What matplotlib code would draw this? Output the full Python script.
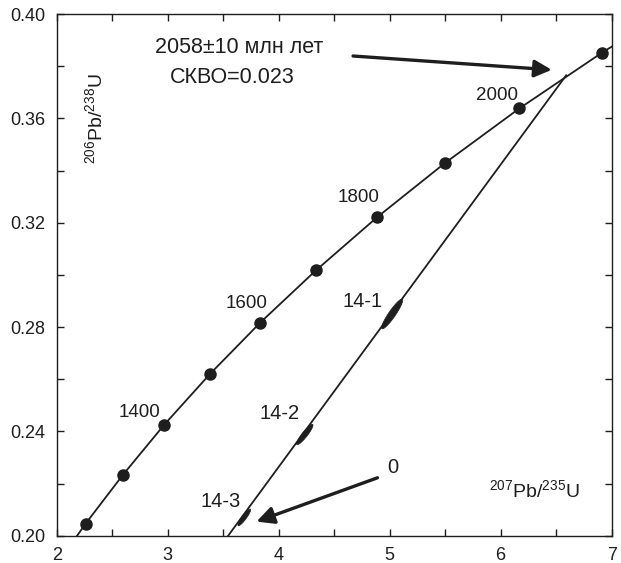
import numpy as np
import matplotlib
matplotlib.use("Agg")
import matplotlib.pyplot as plt

plt.rcParams['font.family'] = ['Liberation Sans', 'DejaVu Sans']
plt.rcParams['mathtext.fontset'] = 'custom'
plt.rcParams['mathtext.rm'] = 'Liberation Sans'
plt.rcParams['mathtext.default'] = 'regular'

INK = '#1e1e1e'

# concordia nodes, Ma (1100 and 2200 only to run the curve off the frame)
ages = [1100, 1200, 1300, 1400, 1500, 1600, 1700, 1800, 1900, 2000, 2100, 2200]
pb207_u235 = [1.955, 2.260, 2.598, 2.970, 3.381, 3.834, 4.335, 4.887, 5.496, 6.168, 6.910, 7.730]
pb206_u238 = [0.1861, 0.2046, 0.2234, 0.2426, 0.2620, 0.2817, 0.3017, 0.3221, 0.3428, 0.3638, 0.3851, 0.4068]
dot_ages = [1200, 1300, 1400, 1500, 1600, 1700, 1800, 1900, 2000, 2100]

age_labels = ['1400', '1600', '1800', '2000']
age_label_x = [2.75, 3.71, 4.72, 5.97]
age_label_y = [0.2472, 0.2890, 0.3296, 0.3686]

# discordia: upper intercept 2058 Ma and the point where it leaves the frame
disc_x = [6.590, 3.545]
disc_y = [0.3765, 0.2000]

# zircon analyses
samples = ['14-1', '14-2', '14-3']
smp_x = [5.022, 4.235, 3.69]
smp_y = [0.2850, 0.2388, 0.2070]
smp_sx = [0.095, 0.074, 0.057]
smp_sy = [0.0057, 0.0039, 0.0032]
smp_rho = [0.92, 0.91, 0.91]
smp_label_x = [4.76, 4.01, 3.48]
smp_label_y = [0.2896, 0.2470, 0.2130]

fig = plt.figure(figsize=(6.21, 5.63), dpi=100)
ax = fig.add_axes([0.0913, 0.0485, 0.8937, 0.9266])

ax.plot(pb207_u235, pb206_u238, color=INK, lw=1.3, zorder=2)
dots = [ages.index(a) for a in dot_ages]
ax.plot([pb207_u235[i] for i in dots], [pb206_u238[i] for i in dots],
        'o', color=INK, ms=8, zorder=3)
for t, x, y in zip(age_labels, age_label_x, age_label_y):
    ax.text(x, y, t, ha='center', va='center', fontsize=13.5, color=INK)

ax.plot(disc_x, disc_y, color=INK, lw=1.3, zorder=2)

tt = np.linspace(0, 2 * np.pi, 100)
for cx, cy, sx, sy, r in zip(smp_x, smp_y, smp_sx, smp_sy, smp_rho):
    ex = cx + sx * np.cos(tt)
    ey = cy + sy * (r * np.cos(tt) + np.sqrt(1 - r ** 2) * np.sin(tt))
    ax.fill(ex, ey, color=INK, lw=0.5, zorder=4)
for t, x, y in zip(samples, smp_label_x, smp_label_y):
    ax.text(x, y, t, ha='center', va='center', fontsize=14.5, color=INK)

arrow = dict(arrowstyle='-|>', lw=2.4, color=INK, mutation_scale=26,
             shrinkA=0, shrinkB=0)
ax.annotate('', xy=(6.46, 0.3786), xytext=(4.67, 0.3839), arrowprops=arrow)
ax.annotate('', xy=(3.80, 0.2054), xytext=(4.89, 0.2222), arrowprops=arrow)
ax.text(5.03, 0.2260, '0', ha='center', va='center', fontsize=14.5, color=INK)

ax.text(3.64, 0.3870, '2058±10 млн лет', ha='center', va='center', fontsize=15.5, color=INK)
ax.text(3.578, 0.3758, 'СКВО=0.023', ha='center', va='center', fontsize=15.5, color=INK)

ax.text(6.30, 0.2176, r'$^{207}$Pb/$^{235}$U', ha='center', va='center', fontsize=14, color=INK)
ax.text(2.345, 0.3600, r'$^{206}$Pb/$^{238}$U', ha='center', va='center', fontsize=14,
        rotation=90, color=INK)

ax.set_xlim(2, 7)
ax.set_ylim(0.20, 0.40)
ax.set_xticks([2, 3, 4, 5, 6, 7])
ax.set_xticks(np.arange(2.5, 7, 1.0), minor=True)
ax.set_yticks([0.20, 0.24, 0.28, 0.32, 0.36, 0.40])
ax.set_yticks(np.arange(0.22, 0.40, 0.04), minor=True)
ax.set_yticklabels(['0.20', '0.24', '0.28', '0.32', '0.36', '0.40'])
ax.tick_params(which='both', direction='in', top=True, right=True, length=5,
               width=1, color=INK, labelsize=13, labelcolor=INK, pad=8)
for s in ax.spines.values():
    s.set_color(INK)
    s.set_linewidth(1)

fig.savefig('out.png', dpi=100)
